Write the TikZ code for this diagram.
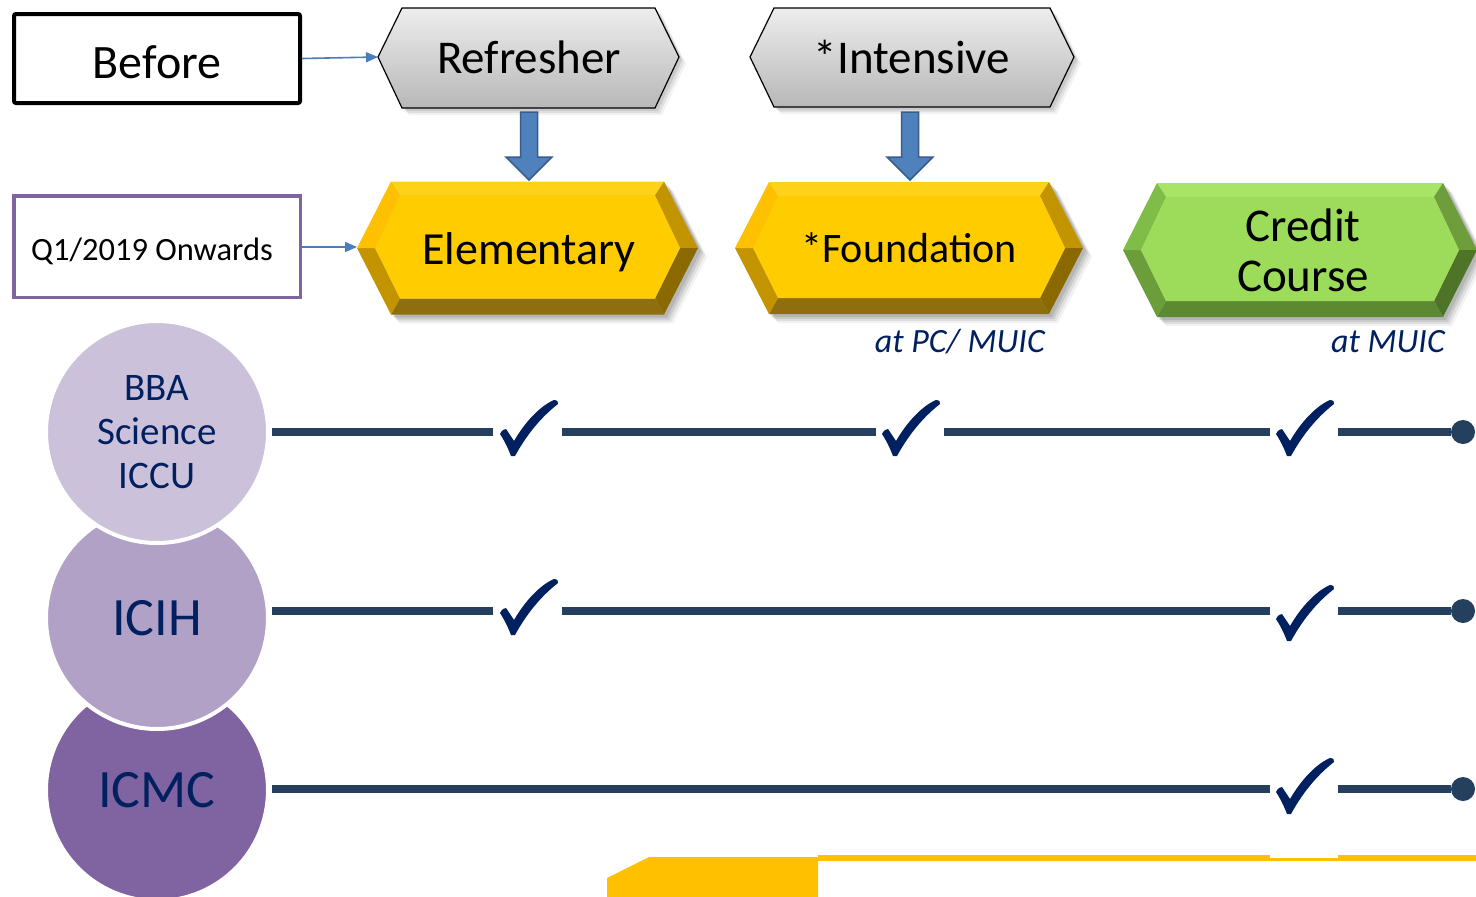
\documentclass[tikz,border=0pt]{standalone}
\usepackage{fontspec}
\setmainfont{Carlito}
\usetikzlibrary{arrows.meta}
\definecolor{navy}{HTML}{002060}
\definecolor{linecol}{HTML}{253F5F}
\definecolor{arrowblue}{HTML}{4A7EBB}
\definecolor{blockfill}{HTML}{4F81BD}
\definecolor{blockedge}{HTML}{385D8A}
\definecolor{qpurple}{HTML}{8064A2}
\definecolor{cA}{HTML}{CCC1DA}
\definecolor{cB}{HTML}{B2A1C7}
\definecolor{cC}{HTML}{8064A2}
\definecolor{barYellow}{HTML}{FFC000}
% yellow bevel
\definecolor{Yface}{HTML}{FFCC00}
\definecolor{Ytop}{HTML}{FFD21A}
\definecolor{Yul}{HTML}{FFC000}
\definecolor{Yll}{HTML}{C39400}
\definecolor{Ybot}{HTML}{8F6E10}
\definecolor{Yur}{HTML}{C29400}
\definecolor{Ylr}{HTML}{8A6A00}
% green bevel
\definecolor{Gface}{HTML}{9DDC5A}
\definecolor{Gtop}{HTML}{A8E466}
\definecolor{Gul}{HTML}{80BC48}
\definecolor{Gll}{HTML}{6B9E3A}
\definecolor{Gbot}{HTML}{5C8A32}
\definecolor{Gur}{HTML}{6E9E3C}
\definecolor{Glr}{HTML}{4E7428}
\newcommand\fsz[1]{\fontsize{#1}{#1}\selectfont}
\newcommand\bevhex[5]{%
  \coordinate (oL) at ({#1-#3},#2);
  \coordinate (oTL) at ({#1-#3+34},{#2-#4});
  \coordinate (oTR) at ({#1+#3-34},{#2-#4});
  \coordinate (oR) at ({#1+#3},#2);
  \coordinate (oBR) at ({#1+#3-34},{#2+#4});
  \coordinate (oBL) at ({#1-#3+34},{#2+#4});
  \coordinate (iL) at ({#1-#3+18},#2);
  \coordinate (iTL) at ({#1-#3+43},{#2-#4+14});
  \coordinate (iTR) at ({#1+#3-43},{#2-#4+14});
  \coordinate (iR) at ({#1+#3-18},#2);
  \coordinate (iBR) at ({#1+#3-43},{#2+#4-16});
  \coordinate (iBL) at ({#1-#3+43},{#2+#4-16});
  \foreach \s/\o in {9/0.05,7/0.07,5/0.09,3/0.1}{
    \fill[black,opacity=\o] ([shift={(\s,\s)}]oL) -- ([shift={(\s,\s)}]oTL) -- ([shift={(\s,\s)}]oTR) -- ([shift={(\s,\s)}]oR) -- ([shift={(\s,\s)}]oBR) -- ([shift={(\s,\s)}]oBL) -- cycle;}
  \fill[#5top] (oTL) -- (oTR) -- (iTR) -- (iTL) -- cycle;
  \fill[#5ur] (oTR) -- (oR) -- (iR) -- (iTR) -- cycle;
  \fill[#5lr] (oR) -- (oBR) -- (iBR) -- (iR) -- cycle;
  \fill[#5bot] (oBR) -- (oBL) -- (iBL) -- (iBR) -- cycle;
  \fill[#5ll] (oBL) -- (oL) -- (iL) -- (iBL) -- cycle;
  \fill[#5ul] (oL) -- (oTL) -- (iTL) -- (iL) -- cycle;
  \fill[#5face] (iL) -- (iTL) -- (iTR) -- (iR) -- (iBR) -- (iBL) -- cycle;
}
\newcommand\grayhex[5]{% left x, right x, top y, mid y, bottom y
  \foreach \s/\o in {7/0.05,5/0.07,3/0.09}{
    \fill[black,opacity=\o] ({#1+\s},{#4+\s}) -- ({#1+24+\s},{#3+\s}) -- ({#2-24+\s},{#3+\s}) -- ({#2+\s},{#4+\s}) -- ({#2-24+\s},{#5+\s}) -- ({#1+24+\s},{#5+\s}) -- cycle;}
  \draw[black,line width=1.2pt,top color=white!93!black,bottom color=white!72!black]
    (#1,#4) -- ({#1+24},#3) -- ({#2-24},#3) -- (#2,#4) -- ({#2-24},#5) -- ({#1+24},#5) -- cycle;
}
\tikzset{
  thinarrow/.style={arrowblue,line width=1.6pt,-{Triangle[length=12pt,width=10pt]}},
  blockarr/.style={fill=blockfill,draw=blockedge,line width=1.5pt},
  tl/.style={linecol,line width=7.5pt},
  gapnode/.style={minimum width=68pt,minimum height=10pt,inner sep=0pt},
  enddot/.style={circle,fill=linecol,minimum size=24pt,inner sep=0pt},
  bigcirc/.style={circle,draw=white,line width=4pt,minimum size=222pt,inner sep=0pt,text=navy},
  hextext/.style={anchor=base,inner sep=0pt,font=\fsz{46}},
  attext/.style={anchor=base east,inner sep=0pt,text=navy,font=\fsz{34}\itshape},
  chk/.pic={\fill[navy] (-13,-22) .. controls (-11,-26) and (-9,-27) .. (-7,-27) -- (1,-15) .. controls (12,-34) and (27,-50) .. (41,-56) .. controls (44,-56) and (46,-54) .. (45,-52) .. controls (27,-38) and (13,-20) .. (2,0) -- (-2,0) .. controls (-5,-8) and (-9,-16) .. cycle;}
}
\begin{document}
\begin{tikzpicture}[x=1pt,y=-1pt]
\useasboundingbox[fill=white] (0,0) rectangle (1476,897);

% left boxes
\node[draw,line width=4pt,rounded corners=2pt,minimum width=286pt,minimum height=89pt,inner sep=0pt] (before) at (157,58.5) {};
\node[anchor=base,inner sep=0pt,font=\fsz{48}] (beforet) at (157,78) {Before};
\node[draw=qpurple,line width=3.5pt,minimum width=286.5pt,minimum height=101.5pt,inner sep=0pt] (q1) at (157,246.5) {};
\node[anchor=base,inner sep=0pt,font=\fsz{32.5}] (q1t) at (152,260) {Q1/2019 Onwards};

% gray hexagons
\grayhex{378}{679}{8}{57}{108}
\grayhex{750}{1074}{8}{57}{107}
\node[hextext,font=\fsz{47}] (refresher) at (529,73) {Refresher};
\node[hextext,font=\fsz{47}] (intensive) at (912,73) {*Intensive};
\coordinate (refL) at (378,57);

% block arrows
\draw[blockarr] (520.5,112) -- (537.5,112) -- (537.5,157) -- (552,157) -- (529,180) -- (506,157) -- (520.5,157) -- cycle;
\draw[blockarr] (901.5,112) -- (918.5,112) -- (918.5,157) -- (933,157) -- (910,180) -- (887,157) -- (901.5,157) -- cycle;

% bevel hexagons
\bevhex{527.5}{248}{170.5}{66.5}{Y}
\coordinate (elemL) at (357,247);
\bevhex{909}{248}{174}{66}{Y}
\bevhex{1300}{250}{177}{67}{G}
\node[hextext] (elementary) at (529,264) {Elementary};
\node[hextext,font=\fsz{42}] (foundation) at (909,262) {*Foundation};
\node[inner sep=0pt,align=center,font=\fontsize{47}{50}\selectfont] (credit) at (1303,250) {Credit\\Course};
\node[attext] (atpc) at (1045,352) {at PC/ MUIC};
\node[attext] (atmuic) at (1445,352) {at MUIC};

% thin arrows
\draw[thinarrow] (before.east) -- (refL);
\draw[thinarrow] (q1.east |- elemL) -- (elemL);

% circles
\node[bigcirc,fill=cC,font=\fsz{54}] (icmc) at (157,790) {ICMC};
\node[bigcirc,fill=cB,font=\fsz{54}] (icih) at (157,618) {ICIH};
\node[bigcirc,fill=cA,font=\fontsize{39}{44}\selectfont,align=center] (bba) at (157,432) {BBA\\Science\\ICCU};

% row 1
\node[gapnode] (c11) at (527.5,432) {};
\node[gapnode] (c12) at (910,432) {};
\node[gapnode] (c13) at (1304,432) {};
\node[enddot] (e1) at (1463,432) {};
\draw[tl] ([xshift=2pt]bba.east |- c11.west) -- (c11.west);
\draw[tl] (c11.east) -- (c12.west);
\draw[tl] (c12.east) -- (c13.west);
\draw[tl] (c13.east) -- (e1);
\pic at ([shift={(-14.5,24)}]c11.center) {chk};
\pic at ([shift={(-15,24)}]c12.center) {chk};
\pic at ([shift={(-15,24)}]c13.center) {chk};

% row 2
\node[gapnode] (c21) at (527.5,611) {};
\node[gapnode] (c23) at (1304,611) {};
\node[enddot] (e2) at (1463,611) {};
\draw[tl] ([xshift=2pt]icih.east |- c21.west) -- (c21.west);
\draw[tl] (c21.east) -- (c23.west);
\draw[tl] (c23.east) -- (e2);
\pic at ([shift={(-14.5,24)}]c21.center) {chk};
\pic at ([shift={(-15,30)}]c23.center) {chk};

% row 3
\node[gapnode] (c33) at (1304,789) {};
\node[enddot] (e3) at (1463,789) {};
\draw[tl] ([xshift=2pt]icmc.east |- c33.west) -- (c33.west);
\draw[tl] (c33.east) -- (e3);
\pic at ([shift={(-15,25)}]c33.center) {chk};

% bottom yellow bar
\fill[barYellow] (607,897) -- (607,878) -- (649,857) -- (818,857) -- (818,897) -- cycle;
\fill[barYellow] (818,855) rectangle (1270,861);
\fill[barYellow] (1270,858) rectangle (1338,861);
\fill[barYellow] (1338,855) rectangle (1476,861);
\end{tikzpicture}
\end{document}
